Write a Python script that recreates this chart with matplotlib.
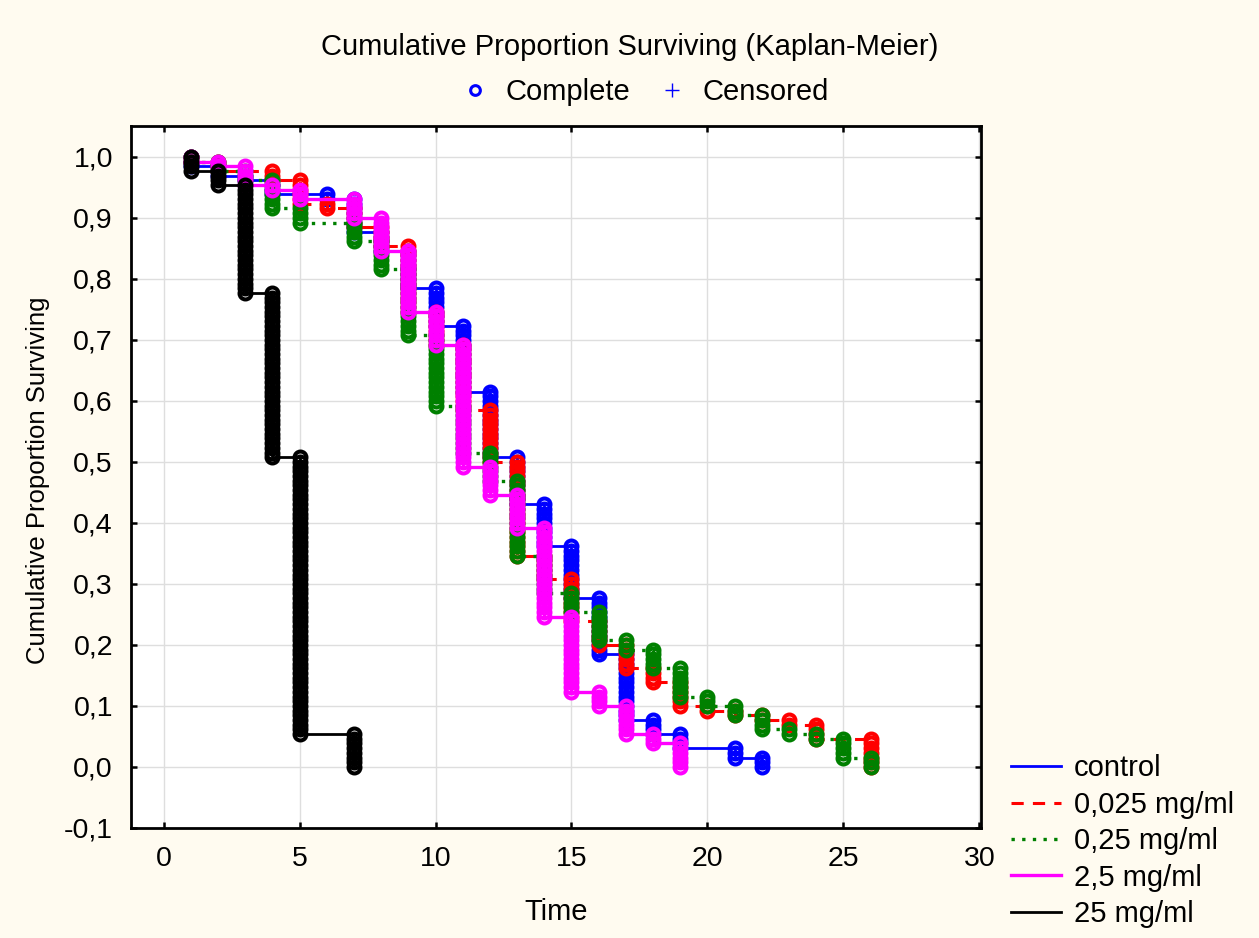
import numpy as np
import matplotlib
matplotlib.use('Agg')
import matplotlib.pyplot as plt
from matplotlib.lines import Line2D
from matplotlib.ticker import FuncFormatter

plt.rcParams['font.family'] = ['Liberation Sans', 'DejaVu Sans']

# group size (no censored cases)
N = 130

# event times and number of deaths at each time, per group
times_control = [1, 2, 3, 4, 6, 7, 8, 9, 10, 11, 12, 13, 14, 15, 16, 17, 18, 19, 21, 22]
deaths_control = [2, 2, 1, 3, 1, 7, 4, 8, 8, 14, 14, 10, 9, 11, 12, 14, 3, 3, 2, 2]

times_025 = [1, 2, 4, 5, 6, 7, 8, 9, 10, 11, 12, 13, 14, 15, 16, 17, 18, 19, 20, 21, 22, 23, 24, 26]
deaths_025 = [1, 2, 2, 5, 1, 4, 4, 14, 7, 14, 11, 20, 5, 9, 5, 5, 3, 5, 1, 1, 1, 1, 3, 6]

times_25 = [1, 2, 3, 4, 5, 7, 8, 9, 10, 11, 12, 13, 14, 15, 16, 17, 18, 19, 20, 21, 22, 23, 24, 25, 26]
deaths_25 = [1, 2, 2, 6, 3, 4, 6, 14, 15, 10, 6, 16, 8, 4, 6, 2, 4, 6, 2, 2, 3, 1, 1, 4, 2]

times_2_5 = [1, 2, 3, 4, 5, 7, 8, 9, 10, 11, 12, 13, 14, 15, 16, 17, 18, 19]
deaths_2_5 = [1, 1, 4, 1, 2, 4, 7, 13, 7, 26, 6, 7, 19, 16, 3, 6, 2, 5]

times_25mg = [1, 2, 3, 4, 5, 7]
deaths_25mg = [3, 3, 23, 35, 59, 7]

labels = ['control', '0,025 mg/ml', '0,25 mg/ml', '2,5 mg/ml', '25 mg/ml']
groups = [(times_control, deaths_control), (times_025, deaths_025),
          (times_25, deaths_25), (times_2_5, deaths_2_5), (times_25mg, deaths_25mg)]
colors = ['#0000ff', '#ff0000', '#008000', '#ff00ff', '#000000']
styles = [dict(ls='-', lw=2.0), dict(ls=(0, (4, 3)), lw=2.2), dict(ls=(0, (1, 2.2)), lw=2.4),
          dict(ls='-', lw=2.4), dict(ls='-', lw=2.0)]


def km(times, deaths):
    # Kaplan-Meier survival after each event, and one point per case
    n = N
    surv = []
    pts_t, pts_s = [], []
    for t, d in zip(times, deaths):
        for k in range(d + 1):
            pts_t.append(t)
            pts_s.append((n - k) / N)
        n -= d
        surv.append(n / N)
    return np.array(surv), np.array(pts_t), np.array(pts_s)


fig = plt.figure(figsize=(12.59, 9.38), dpi=100, facecolor='#fffbf0')
ax = fig.add_axes([0.104, 0.1173, 0.675, 0.748])
ax.set_facecolor('white')

handles = []
for i, ((t, d), c, st) in enumerate(zip(groups, colors, styles)):
    s, pt, ps = km(t, d)
    ax.plot(t, s, drawstyle='steps-post', color=c, zorder=3 + 2 * i, **st)
    ax.plot(pt, ps, ls='none', marker='o', ms=8.6, mfc='none', mec=c, mew=2.9,
            zorder=4 + 2 * i)
    handles.append(Line2D([], [], color=c, **st))

ax.set_xlim(-1.2, 30.05)
ax.set_ylim(-0.1, 1.05)
ax.set_xticks(np.arange(0, 31, 5))
ax.set_yticks(np.arange(-0.1, 1.01, 0.1))
ax.yaxis.set_major_formatter(FuncFormatter(lambda v, p: ('%.1f' % v).replace('.', ',').replace('-0,0', '0,0')))
ax.grid(True, color='#dedede', lw=1.0)
ax.set_axisbelow(True)
for sp in ax.spines.values():
    sp.set_linewidth(2.0)
ax.tick_params(direction='in', length=4, width=1.8, top=True, right=True,
               labelsize=20.5, pad=13)

ax.set_xlabel('Time', fontsize=21)
ax.xaxis.set_label_coords(0.5, -0.12)
ax.xaxis.label.set_va('center')
ax.set_ylabel('Cumulative Proportion Surviving', fontsize=18.5)
ax.yaxis.set_label_coords(-0.109, 0.495)
ax.yaxis.label.set_va('center')

fig.text(0.5, 1 - 47 / 938, 'Cumulative Proportion Surviving (Kaplan-Meier)',
         ha='center', va='center', fontsize=21)

top = [Line2D([], [], ls='none', marker='o', ms=7, mfc='none', mec='#0000ff', mew=2.2),
       Line2D([], [], ls='none', marker='+', ms=10, color='#0000ff', mew=1.0)]
fig.legend(top, ['Complete', 'Censored'], ncol=2, loc='center',
           bbox_to_anchor=(0.512, 1 - 92 / 938), frameon=False, fontsize=21,
           handlelength=1.0, handletextpad=0.55, columnspacing=0.9)

fig.legend(handles, labels, loc='upper left', bbox_to_anchor=(985 / 1259, 1 - 728 / 938),
           frameon=False, fontsize=21, handlelength=1.7, handletextpad=0.45,
           labelspacing=0.29)

fig.savefig('out.png', dpi=100, facecolor=fig.get_facecolor())
